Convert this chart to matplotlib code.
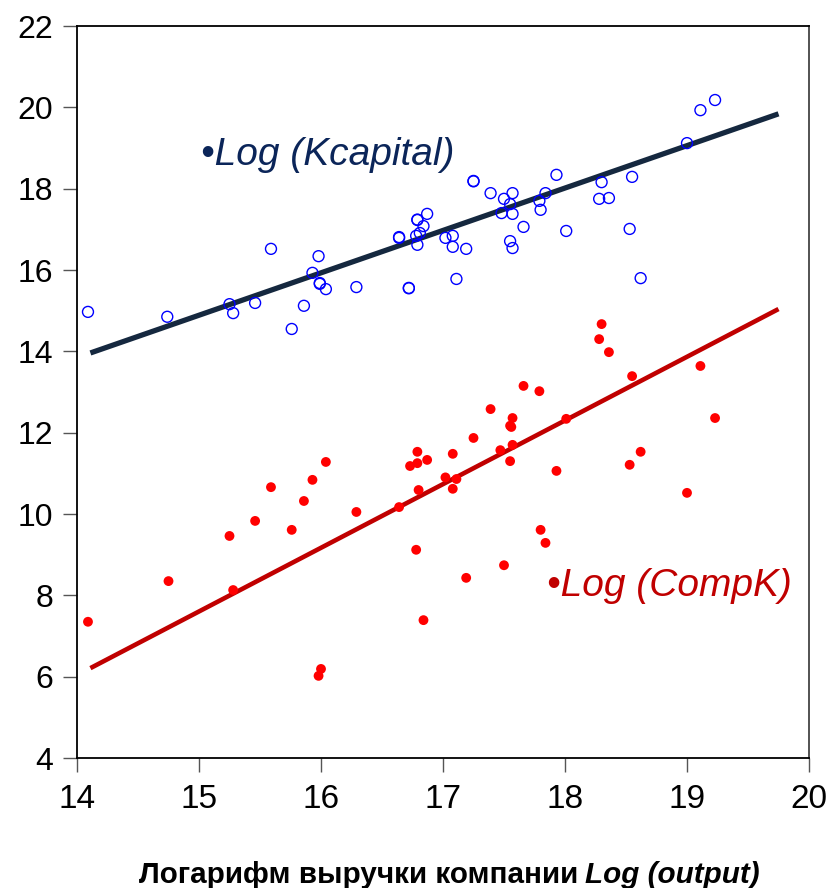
import matplotlib
matplotlib.use("Agg")
import matplotlib.pyplot as plt

# Log (Kcapital) vs Log (output), open blue circles
kcap_x = [14.09, 14.74, 15.25, 15.28, 15.46, 15.59, 15.76, 15.86, 15.93, 15.98,
          15.99, 15.99, 16.04, 16.29, 16.72, 16.72, 16.64, 16.64, 16.78, 16.79,
          16.79, 16.79, 16.81, 16.84, 16.87, 17.02, 17.08, 17.08, 17.11, 17.19,
          17.25, 17.25, 17.39, 17.50, 17.57, 17.55, 17.48, 17.57, 17.66, 17.55,
          17.57, 17.84, 17.79, 17.80, 17.93, 18.01, 18.30, 18.28, 18.36, 18.55,
          18.53, 18.62, 19.00, 19.11, 19.23]
kcap_y = [14.97, 14.85, 15.16, 14.94, 15.19, 16.52, 14.55, 15.12, 15.93, 16.34,
          15.68, 15.66, 15.53, 15.58, 15.56, 15.55, 16.81, 16.79, 16.84, 17.23,
          17.24, 16.62, 16.91, 17.08, 17.38, 16.79, 16.84, 16.57, 15.78, 16.52,
          18.19, 18.18, 17.89, 17.75, 17.89, 17.62, 17.40, 17.38, 17.06, 16.71,
          16.54, 17.89, 17.70, 17.48, 18.34, 16.96, 18.16, 17.75, 17.77, 18.29,
          17.01, 15.80, 19.12, 19.93, 20.18]

# Log (CompK) vs Log (output), filled red dots
compk_x = [14.09, 14.75, 15.25, 15.28, 15.46, 15.59, 15.76, 15.86, 15.93, 16.04,
           15.98, 16.00, 16.29, 16.64, 16.78, 16.73, 16.79, 16.79, 16.87, 16.80,
           16.84, 17.02, 17.08, 17.08, 17.11, 17.25, 17.39, 17.47, 17.57, 17.56,
           17.55, 17.57, 17.55, 17.66, 17.79, 18.01, 17.93, 17.80, 17.84, 17.50,
           17.19, 18.30, 18.28, 18.36, 18.55, 18.53, 18.62, 19.00, 19.11, 19.23]
compk_y = [7.35, 8.35, 9.46, 8.13, 9.83, 10.66, 9.61, 10.32, 10.84, 11.28,
           6.02, 6.19, 10.05, 10.17, 9.12, 11.18, 11.25, 11.53, 11.33, 10.59,
           7.39, 10.90, 11.48, 10.62, 10.86, 11.87, 12.58, 11.57, 12.36, 12.14,
           12.17, 11.70, 11.30, 13.15, 13.02, 12.34, 11.06, 9.61, 9.29, 8.74,
           8.43, 14.67, 14.30, 13.98, 13.39, 11.21, 11.53, 10.52, 13.64, 12.36]

# fitted lines (end points)
fit_x = [14.11, 19.75]
fit_kcap = [13.96, 19.84]
fit_compk = [6.21, 15.04]

x_ticks = [14, 15, 16, 17, 18, 19, 20]
y_ticks = [4, 6, 8, 10, 12, 14, 16, 18, 20, 22]

plt.rcParams["font.family"] = ["Liberation Sans", "DejaVu Sans"]

fig = plt.figure(figsize=(8.34, 8.88), dpi=100)
ax = fig.add_axes([77 / 834, 1 - 758 / 888, (809 - 77) / 834, (758 - 26) / 888])

ax.plot(fit_x, fit_kcap, color="#15283f", lw=3.8, solid_capstyle="butt", zorder=2)
ax.plot(fit_x, fit_compk, color="#c00000", lw=3.3, solid_capstyle="butt", zorder=2)

ax.scatter(kcap_x, kcap_y, s=62, facecolors="none", edgecolors="#0000ff",
           linewidths=1.0, zorder=3)
ax.scatter(compk_x, compk_y, s=50, color="#ff0000", edgecolors="none", zorder=3)

ax.text(15.02, 18.58, "•Log (Kcapital)", color="#0b2559", fontsize=28,
        style="italic", va="baseline")
ax.text(17.85, 7.98, "•Log (CompK)", color="#c00000", fontsize=28,
        style="italic", va="baseline")

ax.set_xlim(14, 20)
ax.set_ylim(4, 22)
ax.set_xticks(x_ticks)
ax.set_yticks(y_ticks)
ax.tick_params(direction="out", length=10, width=1, color="#555555")
ax.tick_params(axis="y", pad=7, labelsize=23)
ax.tick_params(axis="x", pad=9, labelsize=24)

for side in ["left", "bottom", "top"]:
    ax.spines[side].set_linewidth(1.3)
    ax.spines[side].set_color("black")
ax.spines["right"].set_linewidth(1.3)
ax.spines["right"].set_color("#444444")

t1 = fig.text(139 / 834, 1 - 883 / 888, "Логарифм выручки компании",
              fontsize=21.3, weight="bold", va="baseline")
ax.annotate("Log (output)", xy=(1, 0), xycoords=t1, xytext=(5, 0),
            textcoords="offset points", fontsize=21.3, weight="bold",
            style="italic", va="bottom")

fig.savefig("out.png", dpi=100)
